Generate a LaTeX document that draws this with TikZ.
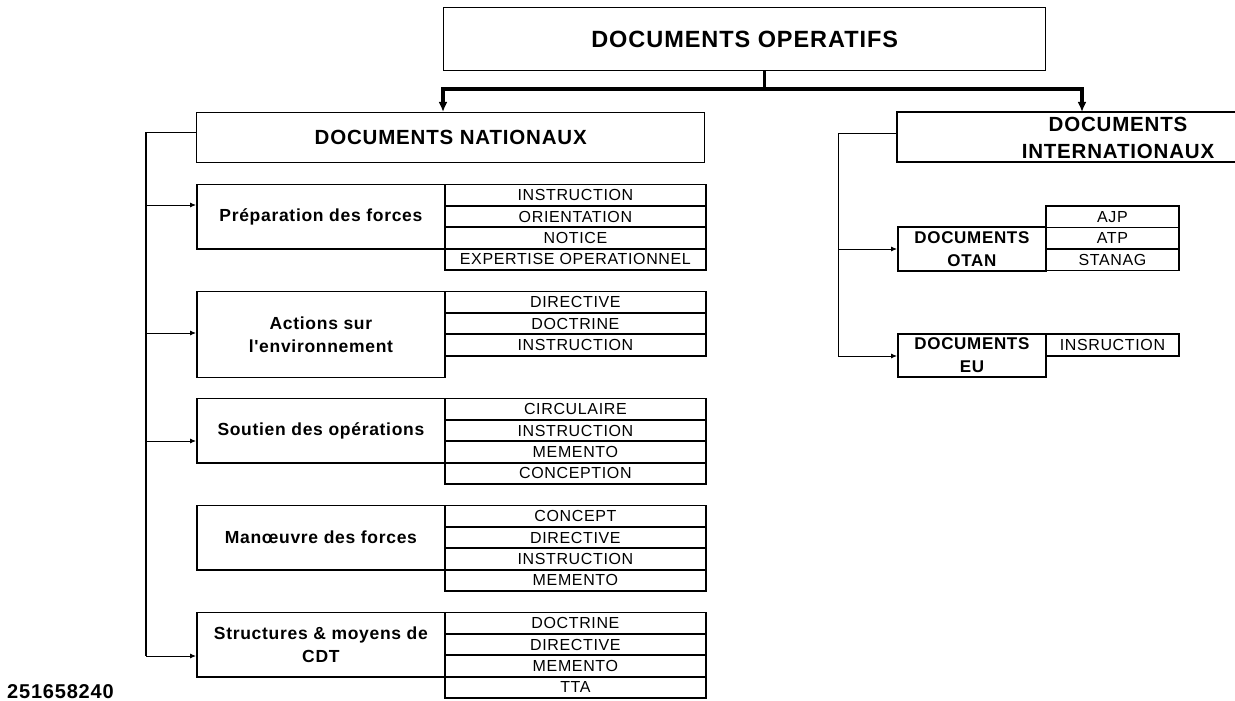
\documentclass[tikz,border=0pt]{standalone}
\usepackage{fontspec}
\setmainfont{Liberation Sans}[LetterSpace=4, Ligatures=TeXOff]
\usetikzlibrary{arrows.meta}
\begin{document}
\begin{tikzpicture}[x=1pt,y=-1pt,
  bigbox/.style={draw, line width=1.4pt, inner sep=0pt, anchor=north west, align=center},
  lbl/.style={draw, line width=1.8pt, inner sep=0pt, anchor=north west, align=center,
    minimum width=248pt, font=\fontsize{17.5}{23}\selectfont\bfseries},
  cell/.style={draw, line width=1.8pt, inner sep=0pt, anchor=north west,
    minimum width=261pt, minimum height=21.4pt, font=\fontsize{16}{18}\selectfont},
  olbl/.style={draw, line width=1.8pt, inner sep=0pt, anchor=north west, align=center,
    minimum width=148pt, font=\fontsize{17}{23}\selectfont\bfseries},
  ocell/.style={draw, line width=1.8pt, inner sep=0pt, anchor=north west,
    minimum width=133pt, minimum height=21.5pt, font=\fontsize{16}{18}\selectfont},
  thin/.style={line width=0.9pt},
  arr/.style={line width=0.9pt, -{Latex[length=6pt,width=5pt]}},
  bus/.style={line width=3.5pt, line join=miter, {Latex[length=10pt,width=9pt]}-{Latex[length=10pt,width=9pt]}}
]
\useasboundingbox (0,0) rectangle (1235,701);

% top
\node[bigbox, minimum width=602pt, minimum height=63pt,
  font=\fontsize{23.5}{26}\selectfont\bfseries] (top) at (443,7) {DOCUMENTS OPERATIFS};
\node[bigbox, minimum width=508pt, minimum height=50pt,
  font=\fontsize{20.5}{24}\selectfont\bfseries] (nat) at (196,112) {DOCUMENTS NATIONAUX};

% international box (open on the right, cut by the page edge)
\node[align=center, inner sep=0pt, font=\fontsize{20.5}{27}\selectfont\bfseries] (intl) at (1118,138) {DOCUMENTS\\INTERNATIONAUX};
\coordinate (intlNW) at (897,112);
\coordinate (intlSW) at (897,162);
\coordinate (intlNE) at (1236,112);
\coordinate (intlSE) at (1236,162);
\draw[line width=1.4pt] (intlNE) -- (intlNW) -- (intlSW) -- (intlSE);

% bus
\coordinate (stem) at (764,89);
\coordinate (busL) at (443,89);
\coordinate (busR) at (1082,89);
\draw[line width=3pt] (top.south -| stem) -- (stem);
\draw[bus] (nat.north -| busL) -- (busL) -- (busR) -- (intlNW -| busR);

% national groups
\node[lbl, minimum height=64.2pt] (prep) at (196,183.5) {Préparation des forces};
\foreach \t [count=\i from 0] in {INSTRUCTION,ORIENTATION,NOTICE,EXPERTISE OPERATIONNEL}
  \node[cell] (prep\i) at (444,183.5+21.4*\i) {\t};

\node[lbl, minimum height=86pt] (act) at (196,290.5) {Actions sur\\l'environnement};
\foreach \t [count=\i from 0] in {DIRECTIVE,DOCTRINE,INSTRUCTION}
  \node[cell] (act\i) at (444,290.5+21.4*\i) {\t};

\node[lbl, minimum height=64.2pt] (sout) at (196,397.5) {Soutien des opérations};
\foreach \t [count=\i from 0] in {CIRCULAIRE,INSTRUCTION,MEMENTO,CONCEPTION}
  \node[cell] (sout\i) at (444,397.5+21.4*\i) {\t};

\node[lbl, minimum height=64.2pt] (man) at (196,504.5) {Manœuvre des forces};
\foreach \t [count=\i from 0] in {CONCEPT,DIRECTIVE,INSTRUCTION,MEMENTO}
  \node[cell] (man\i) at (444,504.5+21.4*\i) {\t};

\node[lbl, minimum height=64.2pt] (struc) at (196,611.5) {Structures \& moyens de\\CDT};
\foreach \t [count=\i from 0] in {DOCTRINE,DIRECTIVE,MEMENTO,TTA}
  \node[cell] (struc\i) at (444,611.5+21.4*\i) {\t};

% left bracket
\coordinate (nb) at (146,132);
\coordinate (nbB) at (146,656);
\coordinate (a1) at (146,205);
\coordinate (a2) at (146,333);
\coordinate (a3) at (146,441);
\draw[thin] (nat.west |- nb) -- (nb);
\draw[line width=2.6pt] (nb) -- (nbB);
\draw[arr] (a1) -- (a1 -| prep.west);
\draw[arr] (a2) -- (a2 -| act.west);
\draw[arr] (a3) -- (a3 -| sout.west);
\draw[arr] (nbB) -- (nbB -| struc.west);

% international groups
\node[olbl, minimum height=44pt] (otan) at (897,226) {DOCUMENTS\\OTAN};
\foreach \t [count=\i from 0] in {AJP,ATP,STANAG}
  \node[ocell] (otan\i) at (1045,205+21.5*\i) {\t};

\node[olbl, minimum height=43pt] (eu) at (897,333) {DOCUMENTS\\EU};
\node[ocell, minimum height=22pt] (eu0) at (1045,333) {INSRUCTION};

% right bracket
\coordinate (ib) at (838,133);
\coordinate (ibB) at (838,356);
\coordinate (b1) at (838,249);
\draw[thin] (intlNW |- ib) -- (ib) -- (ibB);
\draw[arr] (b1) -- (b1 -| otan.west);
\draw[arr] (ibB) -- (ibB -| eu.west);

% code
\node[anchor=west, inner sep=0pt, font=\fontsize{20}{22}\selectfont\bfseries] (code) at (7,692) {251658240};
\end{tikzpicture}
\end{document}
